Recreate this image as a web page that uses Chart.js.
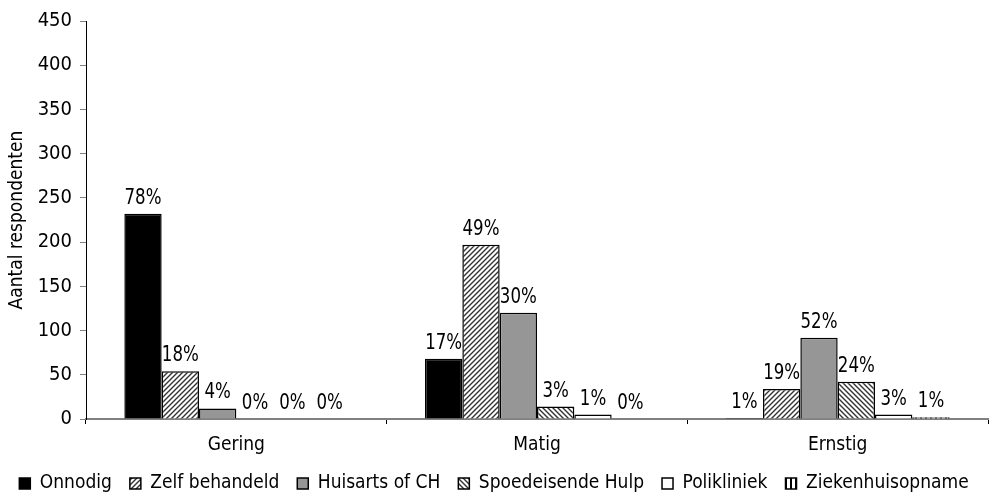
<!DOCTYPE html>
<html lang="nl">
<head>
    <meta charset="UTF-8">
    <title>Aantal respondenten</title>
    <script src="https://cdn.jsdelivr.net/npm/chart.js"></script>
    <style>
        html, body { margin: 0; padding: 0; background: #fff; }
        #wrap { width: 989px; height: 496px; }
    </style>
</head>
<body>
    <div id="wrap"><canvas id="chart"></canvas></div>

    <script>
        // data
        const categories = ['Gering', 'Matig', 'Ernstig'];
        const seriesNames = ['Onnodig', 'Zelf behandeld', 'Huisarts of CH', 'Spoedeisende Hulp', 'Polikliniek', 'Ziekenhuisopname'];
        const onnodig = [232, 68, 1];
        const zelfBehandeld = [54, 197, 34];
        const huisarts = [12, 120, 92];
        const spoedeisend = [0, 14, 42];
        const polikliniek = [0, 5, 5];
        const ziekenhuis = [0, 0, 2];
        const pctOnnodig = ['78%', '17%', '1%'];
        const pctZelf = ['18%', '49%', '19%'];
        const pctHuisarts = ['4%', '30%', '52%'];
        const pctSpoed = ['0%', '3%', '24%'];
        const pctPoli = ['0%', '1%', '3%'];
        const pctZieken = ['0%', '0%', '1%'];
        const yTicks = [0, 50, 100, 150, 200, 250, 300, 350, 400, 450];

        const FONT = "'DejaVu Sans Condensed', 'DejaVu Sans', sans-serif";
        // chart.js passes weight straight into the font string, so the stretch rides along
        const NARROW = 'normal condensed';

        // hatch fills
        function hatch(dir) {
            const s = 5;
            const c = document.createElement('canvas');
            c.width = s; c.height = s;
            const g = c.getContext('2d');
            g.fillStyle = '#fff';
            g.fillRect(0, 0, s, s);
            g.strokeStyle = '#333';
            g.lineWidth = 1.4;
            g.beginPath();
            if (dir === '/') {
                g.moveTo(-1, s + 1); g.lineTo(s + 1, -1);
                g.moveTo(-1, 1); g.lineTo(1, -1);
                g.moveTo(s - 1, s + 1); g.lineTo(s + 1, s - 1);
            } else if (dir === '\\') {
                g.moveTo(-1, -1); g.lineTo(s + 1, s + 1);
                g.moveTo(s - 1, -1); g.lineTo(s + 1, 1);
                g.moveTo(-1, s - 1); g.lineTo(1, s + 1);
            } else {
                g.fillStyle = '#000';
                g.fillRect(0, 0, 2, s);
            }
            g.stroke();
            return g.createPattern(c, 'repeat');
        }

        const ctx = document.getElementById('chart').getContext('2d');
        const fills = ['#000000', hatch('/'), '#969696', hatch('\\'), '#ffffff', hatch('|')];
        const values = [onnodig, zelfBehandeld, huisarts, spoedeisend, polikliniek, ziekenhuis];
        const pcts = [pctOnnodig, pctZelf, pctHuisarts, pctSpoed, pctPoli, pctZieken];

        const datasets = seriesNames.map((name, i) => ({
            label: name,
            data: values[i],
            pct: pcts[i],
            backgroundColor: fills[i],
            borderColor: '#000',
            borderWidth: 1.5,
            barPercentage: 1.0,
            categoryPercentage: 0.745
        }));

        // percentage labels above bars, squeezed a bit to look like the narrow original
        const pctLabels = {
            id: 'pctLabels',
            afterDatasetsDraw(chart) {
                const c = chart.ctx;
                const sx = 0.88;
                c.save();
                c.font = NARROW + ' 21px ' + FONT;
                c.fillStyle = '#000';
                c.textAlign = 'center';
                c.textBaseline = 'alphabetic';
                c.scale(sx, 1);
                chart.data.datasets.forEach((ds, i) => {
                    chart.getDatasetMeta(i).data.forEach((bar, j) => {
                        c.fillText(ds.pct[j], bar.x / sx, bar.y - 10);
                    });
                });
                c.restore();
            }
        };

        new Chart(ctx, {
            type: 'bar',
            data: { labels: categories, datasets: datasets },
            options: {
                responsive: true,
                maintainAspectRatio: false,
                animation: false,
                layout: { padding: { top: 21, right: 1, left: 0, bottom: 0 } },
                plugins: {
                    legend: {
                        position: 'bottom',
                        maxHeight: 40,
                        labels: {
                            color: '#000',
                            font: { family: FONT, size: 19, weight: NARROW },
                            boxWidth: 11,
                            boxHeight: 11,
                            padding: 18
                        }
                    },
                    tooltip: { enabled: false }
                },
                scales: {
                    x: {
                        afterFit(scale) { scale.height = 37; },
                        grid: { display: true, drawOnChartArea: false, offset: true, color: '#000', tickLength: 5 },
                        border: { color: '#808080', width: 2 },
                        ticks: { color: '#000', font: { family: FONT, size: 19, weight: NARROW }, padding: 10 }
                    },
                    y: {
                        min: 0,
                        max: 450,
                        afterBuildTicks(scale) { scale.ticks = yTicks.map(v => ({ value: v })); },
                        afterFit(scale) { scale.width = 86; },
                        grid: { display: true, drawOnChartArea: false, color: '#808080', tickLength: 6 },
                        border: { color: '#000', width: 1 },
                        ticks: { color: '#000', font: { family: FONT, size: 20, weight: NARROW }, padding: 8 },
                        title: {
                            display: true,
                            text: 'Aantal respondenten',
                            color: '#000',
                            font: { family: FONT, size: 19, weight: NARROW },
                            padding: { top: 6, bottom: 0 }
                        }
                    }
                }
            },
            plugins: [pctLabels]
        });
    </script>
</body>
</html>
